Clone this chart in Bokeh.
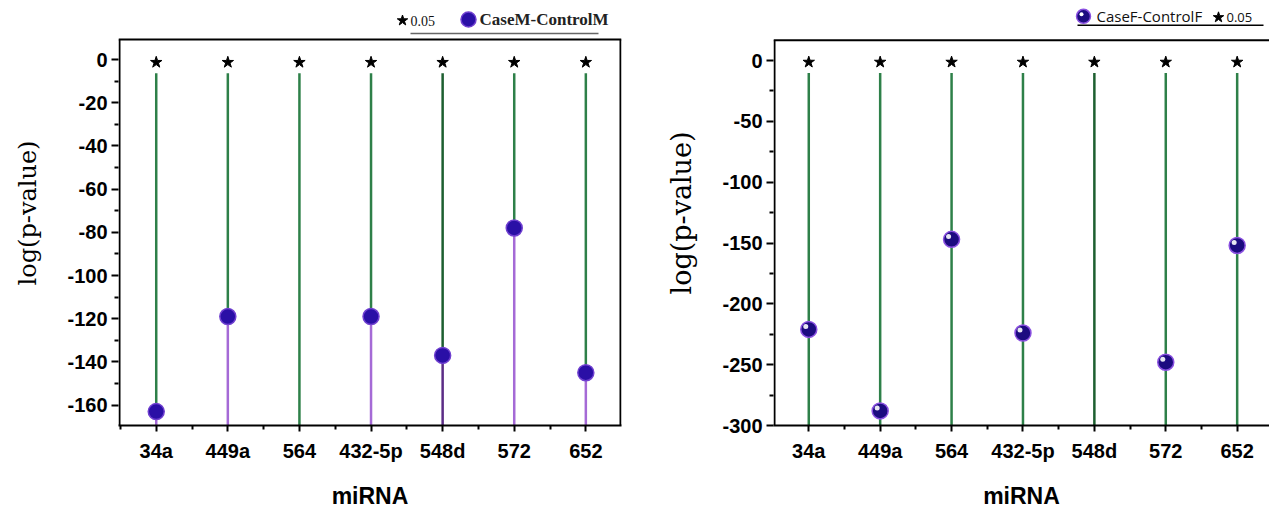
import math
from bokeh.plotting import figure
from bokeh.models import Range1d, FixedTicker, ColumnDataSource
from bokeh.layouts import row
from bokeh.embed import file_html
from bokeh.resources import INLINE
from bokeh.core.properties import value

# ---------------- data ----------------
categories = ["34a", "449a", "564", "432-5p", "548d", "572", "652"]
positions = [1, 2, 3, 4, 5, 6, 7]
male_logp = [-163, -119, None, -119, -137, -78, -145]      # CaseM-ControlM
female_logp = [-221, -288, -147, -224, None, -248, -152]  # CaseF-ControlF
sig_logp = [-1.3, -1.3, -1.3, -1.3, -1.3, -1.3, -1.3]     # log10(0.05) markers

male_yticks = [0, -20, -40, -60, -80, -100, -120, -140, -160]
male_ytick_labels = ["0", "-20", "-40", "-60", "-80", "-100", "-120", "-140", "-160"]
male_yminor = [-10, -30, -50, -70, -90, -110, -130, -150, -170]
female_yticks = [0, -50, -100, -150, -200, -250, -300]
female_ytick_labels = ["0", "-50", "-100", "-150", "-200", "-250", "-300"]
female_yminor = [-25, -75, -125, -175, -225, -275]
x_minor = [0.5, 1.5, 2.5, 3.5, 4.5, 5.5, 6.5, 7.5]

# ---------------- style ----------------
GREEN = ["#2e8049", "#2e8049", "#2e8049", "#2e8049", "#1d5f30", "#2e8049", "#2e8049"]
PURPLE = ["#a56ad6", "#a56ad6", "#a56ad6", "#a56ad6", "#5b2d86", "#a56ad6", "#a56ad6"]
TICK_FONT = "Liberation Sans"
SERIF = "DejaVu Serif"


def make_panel(W, H, fl, fr, fb, box_top, x_start, x_scale, y_zero, y_scale,
               yticks, ylabels, yminor, draw_right_border, ylab_size):
    X = lambda px: x_start + (px - fl) / x_scale
    Y = lambda py: (y_zero - py) / y_scale
    y_start, y_end = Y(fb), Y(0)
    x_end = X(fr)
    p = figure(width=W, height=H, x_range=Range1d(x_start, x_end),
               y_range=Range1d(y_start, y_end), output_backend="svg",
               toolbar_location=None, title=None,
               min_border_left=fl, min_border_right=W - fr,
               min_border_top=0, min_border_bottom=H - fb)
    p.outline_line_color = None
    p.xgrid.visible = False
    p.ygrid.visible = False
    p.background_fill_color = "white"
    p.border_fill_color = "white"

    xa = p.xaxis[0]
    xa.ticker = FixedTicker(ticks=positions, minor_ticks=x_minor)
    xa.major_label_overrides = {k: c for k, c in zip(positions, categories)}
    xa.major_label_text_font = TICK_FONT
    xa.major_label_text_font_style = "bold"
    xa.major_label_text_font_size = "20px"
    xa.major_label_text_color = "black"
    xa.major_label_standoff = 8
    xa.axis_line_color = "black"
    xa.axis_line_width = 2
    xa.major_tick_in = 0
    xa.major_tick_out = 6
    xa.minor_tick_in = 0
    xa.minor_tick_out = 4
    xa.major_tick_line_width = 2
    xa.minor_tick_line_width = 2
    xa.axis_label = "miRNA"
    xa.axis_label_text_font = TICK_FONT
    xa.axis_label_text_font_style = "bold"
    xa.axis_label_text_font_size = "23px"
    xa.axis_label_text_color = "black"
    xa.axis_label_standoff = 18

    ya = p.yaxis[0]
    ya.ticker = FixedTicker(ticks=yticks, minor_ticks=yminor)
    ya.major_label_overrides = {k: s for k, s in zip(yticks, ylabels)}
    ya.major_label_text_font = TICK_FONT
    ya.major_label_text_font_style = "bold"
    ya.major_label_text_font_size = "20px"
    ya.major_label_text_color = "black"
    ya.major_label_standoff = 4
    ya.axis_line_color = None
    ya.major_tick_in = 0
    ya.major_tick_out = 7
    ya.minor_tick_in = 0
    ya.minor_tick_out = 4
    ya.major_tick_line_width = 2
    ya.minor_tick_line_width = 2
    ya.axis_label = "log(p-value)"
    ya.axis_label_text_font = SERIF
    ya.axis_label_text_font_style = "normal"
    ya.axis_label_text_font_size = f"{ylab_size}px"
    ya.axis_label_text_color = "black"
    ya.axis_label_standoff = 22

    # frame lines (left axis line, top border, optional right border)
    p.segment(x0=[X(fl + 1)], y0=[y_start], x1=[X(fl + 1)], y1=[Y(box_top)],
              line_color="black", line_width=2)
    p.segment(x0=[X(fl)], y0=[Y(box_top)], x1=[x_end], y1=[Y(box_top)],
              line_color="black", line_width=2)
    if draw_right_border:
        p.segment(x0=[X(fr - 1)], y0=[y_start], x1=[X(fr - 1)], y1=[Y(box_top)],
                  line_color="black", line_width=2)
    return p, X, Y, y_start


# ======== left panel: male ========
W1, H = 640, 514
pL, XL, YL, yL0 = make_panel(W1, H, 118, 621, 425, 39, 0.473, 71.6, 59, 2.16,
                             male_yticks, male_ytick_labels, male_yminor, True, 24)
gap = 11 / 2.16
g_src = ColumnDataSource(dict(
    x=positions, y0=[s - gap for s in sig_logp],
    y1=[v if v is not None else yL0 for v in male_logp], c=GREEN))
pL.segment(x0="x", y0="y0", x1="x", y1="y1", line_color="c", line_width=2.5, source=g_src)
mx = [x for x, v in zip(positions, male_logp) if v is not None]
mv = [v for v in male_logp if v is not None]
mc = [c for c, v in zip(PURPLE, male_logp) if v is not None]
pL.segment(x0=mx, y0=mv, x1=mx, y1=[yL0] * len(mx), line_color=mc, line_width=2.5)
pL.scatter(positions, sig_logp, marker="star", size=12, color="black")
pL.scatter(mx, mv, size=16, fill_color="#2a0fa6", line_color="#7040d0", line_width=1.5)

# legend (left)
pL.scatter([XL(402)], [YL(20)], marker="star", size=11, color="black")
pL.text(x=[XL(410)], y=[YL(20)], text=["0.05"], text_font=value("Liberation Serif"),
        text_font_size="14px", text_baseline="middle", text_align="left", text_color="#111")
pL.scatter([XL(468)], [YL(19)], size=15, fill_color="#2a0fa6", line_color="#7040d0", line_width=1.5)
pL.text(x=[XL(479)], y=[YL(19)], text=["CaseM-ControlM"], text_font=value("Liberation Serif"),
        text_font_size="17px", text_font_style="bold", text_baseline="middle",
        text_align="left", text_color="#222")
pL.segment(x0=[XL(410)], y0=[YL(33)], x1=[XL(598)], y1=[YL(33)], line_color="#666", line_width=1.5)

# ======== right panel: female ========
W2 = 629
pR, XR, YR, yR0 = make_panel(W2, H, 133, 629, 429, 40, 0.506, 71.4, 60.6, 1.228,
                             female_yticks, female_ytick_labels, female_yminor, False, 27)
gapR = 11 / 1.228
pR.segment(x0=positions, y0=[s - gapR for s in sig_logp], x1=positions, y1=[yR0] * 7,
           line_color=GREEN, line_width=2.5)
pR.scatter(positions, sig_logp, marker="star", size=12, color="black")
fx = [x for x, v in zip(positions, female_logp) if v is not None]
fv = [v for v in female_logp if v is not None]
pR.scatter(fx, fv, size=16, fill_color="#1c0b80", line_color="#8a50e0", line_width=1.5)
pR.scatter([x - 3 / 71.4 for x in fx], [v + 3 / 1.228 for v in fv], size=5,
           fill_color="white", line_color=None, fill_alpha=0.9)

# legend (right)
pR.scatter([XR(443)], [YR(16)], size=14, fill_color="#1c0b80", line_color="#8a50e0", line_width=1.5)
pR.scatter([XR(441)], [YR(14)], size=4, fill_color="white", line_color=None)
pR.text(x=[XR(456)], y=[YR(16)], text=["CaseF-ControlF"], text_font=value("Open Sans"),
        text_font_size="15px", text_baseline="middle", text_align="left", text_color="#111")
pR.scatter([XR(578)], [YR(17)], marker="star", size=11, color="black")
pR.text(x=[XR(586)], y=[YR(17)], text=["0.05"], text_font=value("Open Sans"),
        text_font_size="13px", text_baseline="middle", text_align="left", text_color="#111")
pR.segment(x0=[XR(437)], y0=[YR(25)], x1=[XR(623)], y1=[YR(25)], line_color="black", line_width=1.5)

layout = row(pL, pR)
open("out.html", "w").write(file_html(layout, INLINE))
